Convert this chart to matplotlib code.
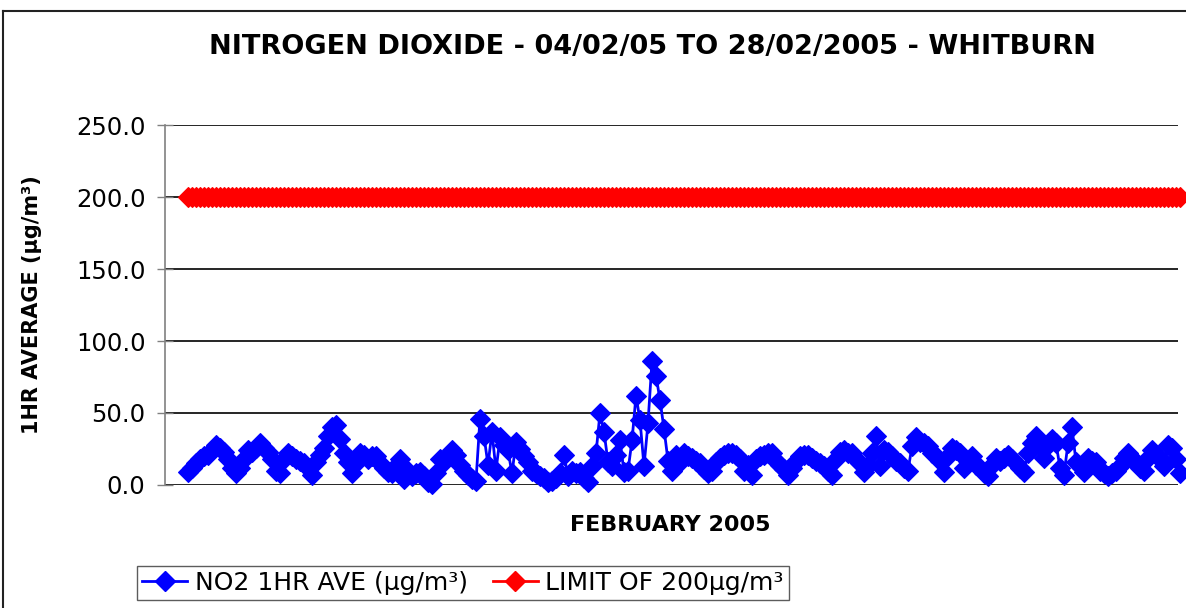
import matplotlib
matplotlib.use("Agg")
import matplotlib.pyplot as plt
from matplotlib.lines import Line2D

# NO2 hourly averages (µg/m³), 04/02/2005 - 28/02/2005
no2 = [
    9, 12, 15, 18, 20, 21, 24, 28, 26, 23, 18, 12, 8, 12, 18, 24, 23, 26, 29, 26,
    23, 18, 10, 8, 18, 22, 20, 18, 17, 15, 12, 7, 16, 21, 26, 34, 40, 42, 32, 22,
    16,
    8, 15, 22, 21, 18, 20, 20, 15, 12, 9, 8, 13, 18, 4, 10, 6, 8, 9, 6, 2,
    1, 8, 18, 16, 20, 24, 21, 14, 10, 7, 4, 3, 46, 34, 14, 37, 10, 33, 28, 24,
    8, 30, 25, 20, 16, 10, 8, 6, 5, 2, 3, 5, 8, 21, 6, 10, 8, 9, 5, 2,
    13, 22, 50, 37, 16, 13, 21, 31, 9, 10, 31, 62, 45, 13, 43, 86, 76, 59, 39, 17,
    10, 21, 16, 22,
    20, 19, 17, 15, 11, 8, 10, 16, 19, 21, 22, 22, 21, 18, 10, 14, 7, 18, 20, 21,
    22, 22, 17, 14, 11, 7, 12, 17, 20, 21, 21, 19, 17, 15, 13, 10, 7, 18, 23, 24,
    22, 22,
    18, 15, 9, 14, 22, 34, 13, 24, 23, 20, 17, 15, 12, 10, 27, 33, 30, 29, 27, 22,
    20, 17, 9, 20, 26, 24, 22, 12, 17, 20, 14, 12, 8, 6, 14, 19, 17, 19, 21, 18,
    15, 12,
    9, 22, 29, 34, 27, 19, 28, 32, 29, 12, 7, 29, 40, 16, 13, 9, 19, 17, 16, 10,
    8, 6, 8, 10, 13, 19, 22, 19, 15, 12, 10, 19, 24, 21, 19, 13, 28, 26, 18, 8,
]
limit = [200.0] * len(no2)
yticks = [0, 50, 100, 150, 200, 250]

title = "NITROGEN DIOXIDE - 04/02/05 TO 28/02/2005 - WHITBURN"
ylabel = "1HR AVERAGE (µg/m³)"
xlabel = "FEBRUARY 2005"
labels = ["NO2 1HR AVE (µg/m³)", "LIMIT OF 200µg/m³"]

W, H = 1186, 608
plt.rcParams["font.family"] = ["DejaVu Sans"]
fig = plt.figure(figsize=(W / 100, H / 100), dpi=100)

# outer chart frame (top and left edges visible)
fig.add_artist(Line2D([3 / W, 3 / W], [0, 1 - 11 / H], transform=fig.transFigure,
                      color="#222222", lw=1.5))
fig.add_artist(Line2D([3 / W, 1], [1 - 11 / H, 1 - 11 / H], transform=fig.transFigure,
                      color="#222222", lw=1.5))

ax_l, ax_r, ax_t, ax_b = 165, 1178, 125, 485
ax = fig.add_axes([ax_l / W, 1 - ax_b / H, (ax_r - ax_l) / W, (ax_b - ax_t) / H])

n = len(no2)
x = list(range(n))
first_px, last_px = 188, 1180
d = (last_px - first_px) / (n - 1)
ax.set_xlim(-(first_px - ax_l) / d, (n - 1) - (last_px - ax_r) / d)
ax.set_ylim(0, 250)

MS = 10.5
ax.plot(x, limit, color="#FF0000", marker="D", ms=MS, mew=0.8, lw=2,
        clip_on=False, zorder=3)
ax.plot(x, no2, color="#0000FF", marker="D", ms=MS, mew=0.8, lw=2,
        clip_on=False, zorder=4)

ax.set_yticks(yticks)
ax.set_yticklabels([f"{v:.1f}" for v in yticks])
ax.set_xticks([])
ax.yaxis.grid(True, color="black", lw=1.2)
ax.set_axisbelow(True)
for s in ["top", "right", "bottom"]:
    ax.spines[s].set_visible(False)
ax.spines["left"].set_color("#808080")
ax.spines["left"].set_linewidth(1.2)
ax.tick_params(axis="y", direction="inout", length=12, width=1, color="#808080",
               labelsize=17.5, pad=8)

fig.text(652 / W, 1 - 47 / H, title, ha="center", va="center", fontsize=19.5,
         fontweight="bold")
fig.text(32 / W, 1 - 305 / H, ylabel, ha="center", va="center", rotation=90,
         fontsize=15, fontweight="bold")
fig.text(670 / W, 1 - 525 / H, xlabel, ha="center", va="center", fontsize=16,
         fontweight="bold")

handles = [
    Line2D([], [], color="#0000FF", marker="D", ms=MS, lw=2),
    Line2D([], [], color="#FF0000", marker="D", ms=MS, lw=2),
]
leg = fig.legend(handles, labels, loc="center", bbox_to_anchor=(463 / W, 1 - 583 / H),
                 ncol=2, fontsize=18, frameon=True, fancybox=False, handlelength=1.8,
                 handletextpad=0.3, columnspacing=1.0, borderpad=0.2)
leg.get_frame().set_edgecolor("#333333")
leg.get_frame().set_linewidth(1.0)

fig.savefig("out.png", dpi=100)
